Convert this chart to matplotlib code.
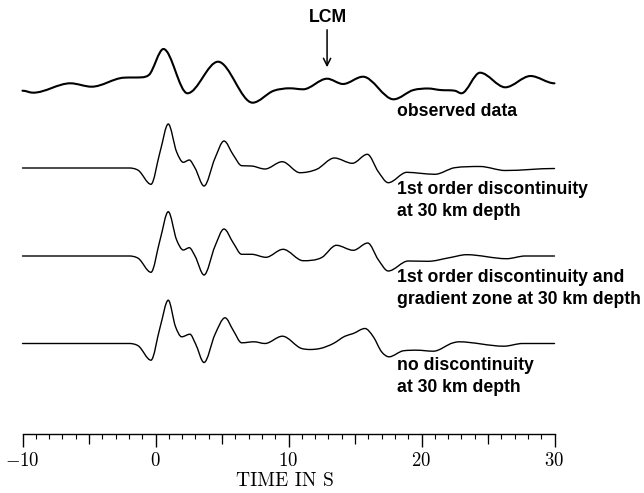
import matplotlib
matplotlib.use("Agg")
import matplotlib.pyplot as plt
import numpy as np
from matplotlib.path import Path
from matplotlib.patches import PathPatch

plt.rcParams['font.family'] = 'serif'
plt.rcParams['font.serif'] = ['cmr10', 'DejaVu Serif']
plt.rcParams['axes.formatter.use_mathtext'] = True
plt.rcParams['mathtext.fontset'] = 'cm'

# digitised seismogram knots: time (s) and amplitude (screen px, up = positive)
obs_t = [-10.0, -9.2, -6.4, -4.8, -2.4, -1.0, -0.5, 0.6, 2.4, 4.7, 7.3, 8.9, 10.1, 11.1,
         12.9, 14.1, 15.6, 17.9, 19.4, 20.5, 21.4, 22.5, 23.0, 24.4, 26.3, 28.2, 30.0]
obs_a = [-0.7, -2.7, 6.7, 3.3, 12.3, 12.7, 15.0, 41.0, -3.3, 28.3, -12.7, -0.7, 1.7, 0.7,
         11.3, 6.0, 13.3, -9.3, 0.0, 1.5, 0.0, -0.7, -3.3, 17.3, 2.7, 14.0, 6.7]

disc_t = [-10.0, -2.0, -1.3, -0.34, 0.34, 0.96, 1.59, 2.09, 2.54, 2.97, 3.65, 4.47, 5.15,
          5.85, 6.48, 7.23, 8.23, 9.53, 10.86, 12.12, 13.45, 14.8, 15.93, 16.75, 17.5,
          18.9, 19.9, 21.0, 22.5, 24.4, 26.3, 30.0]
disc_a = [0.0, 0.0, -2.3, -16.3, 16.0, 44.0, 16.0, 5.7, 8.0, 0.0, -18.0, 9.7, 27.0,
          13.0, 2.3, 2.0, -1.0, 6.3, -4.7, -1.3, 10.0, 4.7, 13.7, -3.7, -14.7,
          -4.3, -5.3, -6.3, 0.3, 1.5, -2.5, -0.5]

grad_t = [-10.0, -2.0, -1.3, -0.34, 0.34, 0.96, 1.59, 2.09, 2.54, 2.97, 3.65, 4.47, 5.15,
          5.85, 6.48, 7.23, 8.3, 9.59, 11.1, 12.5, 13.6, 14.87, 15.96, 16.75, 17.5,
          19.0, 20.5, 22.1, 23.4, 26.4, 27.8, 30.0]
grad_a = [0.0, 0.0, -2.3, -16.3, 16.0, 44.3, 16.0, 6.0, 8.3, 0.0, -19.0, 9.7, 27.0,
          13.0, 1.7, 1.7, -1.3, 6.7, -4.7, -1.5, 10.7, 5.7, 13.0, -3.7, -15.0,
          -5.0, -5.3, -1.7, 1.3, -2.7, 0.0, 0.0]

none_t = [-10.0, -2.0, -1.3, -0.34, 0.34, 0.96, 1.5, 1.97, 2.59, 3.0, 3.65, 4.47, 5.23,
          5.85, 6.48, 7.41, 8.23, 9.54, 10.99, 11.6, 12.37, 13.37, 14.25, 14.87, 15.75,
          16.38, 17.0, 17.56, 18.63, 19.64, 20.89, 22.39, 22.8, 26.2, 27.6, 30.0]
none_a = [0.0, 0.0, -2.3, -16.7, 16.0, 43.3, 17.0, 6.7, 9.3, 0.0, -19.0, 9.0, 25.7,
          13.0, 0.7, 1.7, 0.0, 7.3, -5.0, -6.0, -5.0, 0.0, 7.3, 10.0, 15.0,
          6.7, -8.3, -13.3, -7.3, -6.7, -7.7, 0.7, 1.7, -2.7, 0.0, 0.0]

traces = [(obs_t, obs_a, 90, 1.5), (disc_t, disc_a, 168, 1.0),
          (grad_t, grad_a, 256, 1.0), (none_t, none_a, 343.5, 1.0)]
labels = [("observed data", 112), ("1st order discontinuity", 189), ("at 30 km depth", 211),
          ("1st order discontinuity and", 278), ("gradient zone at 30 km depth", 299),
          ("no discontinuity", 366), ("at 30 km depth", 388)]

px_per_s = 13.3
x_zero = 155.5


def smooth_path(t, a, base):
    # cubic through the knots (flat at extrema), drawn as bezier segments
    t = np.asarray(t, float)
    y = base - np.asarray(a, float)
    h = np.diff(t)
    d = np.diff(y) / h
    m = np.zeros_like(y)
    for i in range(1, len(t) - 1):
        if d[i - 1] * d[i] > 0:
            s = (h[i] * d[i - 1] + h[i - 1] * d[i]) / (h[i - 1] + h[i])
            lim = 3 * min(abs(d[i - 1]), abs(d[i]))
            m[i] = np.sign(s) * min(abs(s), lim)
    verts = [(t[0], y[0])]
    codes = [Path.MOVETO]
    for i in range(len(h)):
        verts += [(t[i] + h[i] / 3, y[i] + m[i] * h[i] / 3),
                  (t[i + 1] - h[i] / 3, y[i + 1] - m[i + 1] * h[i] / 3),
                  (t[i + 1], y[i + 1])]
        codes += [Path.CURVE4] * 3
    return Path(verts, codes)


fig = plt.figure(figsize=(6.44, 4.93), dpi=100)
ax = fig.add_axes([0, 0, 1, 1])
ax.set_xlim(-x_zero / px_per_s, (644 - x_zero) / px_per_s)
ax.set_ylim(493, 0)
ax.axis('off')

for t, a, base, lw in traces:
    ax.add_patch(PathPatch(smooth_path(t, a, base), fill=False, edgecolor='black',
                           lw=lw, capstyle='round', joinstyle='round'))

lab_font = dict(family='Liberation Sans', weight='bold', size=12.7)
x_lab = (397 - x_zero) / px_per_s
for txt, y in labels:
    ax.text(x_lab, y, txt, ha='left', va='center', **lab_font)

# LCM marker
ax.text(12.95, 17, 'LCM', ha='center', va='center', **lab_font)
ax.annotate('', xy=(12.9, 70), xytext=(12.9, 27),
            arrowprops=dict(arrowstyle='->', lw=1.1, color='black', mutation_scale=13))

# time scale
y_axis = 434
ax_s = fig.add_axes([(x_zero - 10 * px_per_s) / 644, 1 - y_axis / 493,
                     40 * px_per_s / 644, 0.01])
ax_s.patch.set_alpha(0)
ax_s.set_xlim(-10, 30)
for s in ['top', 'left', 'right']:
    ax_s.spines[s].set_visible(False)
ax_s.spines['bottom'].set_linewidth(1.0)
ax_s.set_yticks([])
ax_s.set_xticks([-10, 0, 10, 20, 30])
ax_s.set_xticks(np.arange(-10, 31, 1), minor=True)
ax_s.tick_params(axis='x', which='major', length=9, width=1.0, pad=4, labelsize=13.5)
ax_s.tick_params(axis='x', which='minor', length=3.6, width=0.8)

sec = ax_s.secondary_xaxis('bottom')
sec.set_xticks([-5, 5, 15, 25])
sec.tick_params(axis='x', length=7, width=0.9, labelbottom=False)
sec.spines['bottom'].set_visible(False)

ax.text(9.75, 481, 'TIME IN S', ha='center', va='center', fontsize=14)

fig.savefig('out.png', dpi=100)
plt.close()
